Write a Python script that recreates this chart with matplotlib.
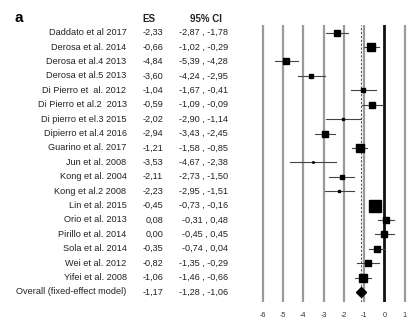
import matplotlib.pyplot as plt
import matplotlib.transforms as mtransforms

# ─── Data ───────────────────────────────────────────────────────────
studies = [
    "Daddato et al 2017", "Derosa et al. 2014", "Derosa et al.4 2013",
    "Derosa et al.5 2013", "Di Pierro et  al. 2012", "Di Pierro et al.2  2013",
    "Di pierro et el.3 2015", "Dipierro et al.4 2016", "Guarino et al. 2017",
    "Jun et al. 2008", "Kong et al. 2004", "Kong et al.2 2008",
    "Lin et al. 2015", "Orio et al. 2013", "Pirillo et al. 2014",
    "Sola et al. 2014", "Wei et al. 2012", "Yifei et al. 2008",
]
es = [-2.33, -0.66, -4.84, -3.60, -1.04, -0.59, -2.02, -2.94, -1.21,
      -3.53, -2.11, -2.23, -0.45, 0.08, 0.00, -0.35, -0.82, -1.06]
ci_low = [-2.87, -1.02, -5.39, -4.24, -1.67, -1.09, -2.90, -3.43, -1.58,
          -4.67, -2.73, -2.95, -0.73, -0.31, -0.45, -0.74, -1.35, -1.46]
ci_high = [-1.78, -0.29, -4.28, -2.95, -0.41, -0.09, -1.14, -2.45, -0.85,
           -2.38, -1.50, -1.51, -0.16, 0.48, 0.45, 0.04, -0.29, -0.66]
# relative study weights -> square size (points)
weights = [3.8, 6.0, 3.8, 3.0, 2.6, 3.8, 1.4, 4.5, 6.0,
           1.0, 2.6, 1.8, 8.5, 4.6, 4.6, 4.6, 3.8, 5.2]

overall_label = "Overall (fixed-effect model)"
overall_es, overall_low, overall_high = -1.17, -1.28, -1.06
xticks = [-6, -5, -4, -3, -2, -1, 0, 1]

plt.rcParams["font.family"] = ["Liberation Sans", "DejaVu Sans"]

W, H = 408, 321
fig = plt.figure(figsize=(W / 100, H / 100), dpi=100)

# forest area: -6 at px 262.7, 1 at px 404.7 ; rows from y=25 to y=301.7
ppu = (404.7 - 262.7) / 7
x_left = -6 - 262.7 / ppu
x_right = 1 + (W - 404.7) / ppu
top_px, bot_px = 25, 301.7
row0_px, row_sp = 32.7, 14.4
ax = fig.add_axes([0, 1 - bot_px / H, 1, (bot_px - top_px) / H])
ax.set_xlim(x_left, x_right)
ax.set_ylim((bot_px - row0_px) / row_sp, (top_px - row0_px) / row_sp)
for s in ax.spines.values():
    s.set_visible(False)
ax.set_yticks([])
ax.set_xticks(xticks)
ax.set_xticklabels([str(t) for t in xticks], fontsize=5.2, color="#333333")
ax.tick_params(axis="x", length=0, pad=7.5)

# vertical reference lines
for t in xticks:
    if t == 0:
        ax.axvline(t, color="#111111", lw=2.0, zorder=1)
    else:
        ax.axvline(t, color="#9a9a9a", lw=1.6, zorder=1)
ax.axvline(overall_es, color="#555555", lw=0.8, ls=(0, (2, 1.5)), zorder=2)

# studies
rows = list(range(len(studies)))
for y, e, lo, hi, w in zip(rows, es, ci_low, ci_high, weights):
    ax.plot([lo, hi], [y, y], color="#444444", lw=0.8, zorder=3)
    ax.plot(e, y, marker="s", ms=w, color="black", mec="black", zorder=4)

# pooled estimate
yo = len(studies)
ax.plot([overall_low, overall_high], [yo, yo], color="#444444", lw=0.8, zorder=3)
ax.plot(overall_es, yo, marker="D", ms=5.2, color="black", mec="black", zorder=4)

# text columns
tr = mtransforms.blended_transform_factory(fig.transFigure, ax.transData)
fmt = lambda v: f"{v:.2f}".replace(".", ",")
fs = 6.6
labels = studies + [overall_label]
all_es = es + [overall_es]
all_lo = ci_low + [overall_low]
all_hi = ci_high + [overall_high]
for y, name, e, lo, hi in zip(rows + [yo], labels, all_es, all_lo, all_hi):
    ax.text(126.5 / W, y, name, transform=tr, ha="right", va="center",
            fontsize=fs, color="#222222")
    ax.text(163 / W, y, fmt(e), transform=tr, ha="right", va="center",
            fontsize=fs, color="#222222")
    ax.text(228 / W, y, f"{fmt(lo)} , {fmt(hi)}", transform=tr, ha="right",
            va="center", fontsize=fs, color="#222222")

fig.text(148.5 / W, 1 - 19 / H, "ES", ha="center", va="center",
         fontsize=7, fontweight="bold", color="#222222")
fig.text(206 / W, 1 - 19 / H, "95% CI", ha="center", va="center",
         fontsize=7, fontweight="bold", color="#222222")
fig.text(19 / W, 1 - 18 / H, "a", ha="center", va="center",
         fontsize=11, fontweight="bold", color="black")

fig.savefig("out.png", dpi=100)
